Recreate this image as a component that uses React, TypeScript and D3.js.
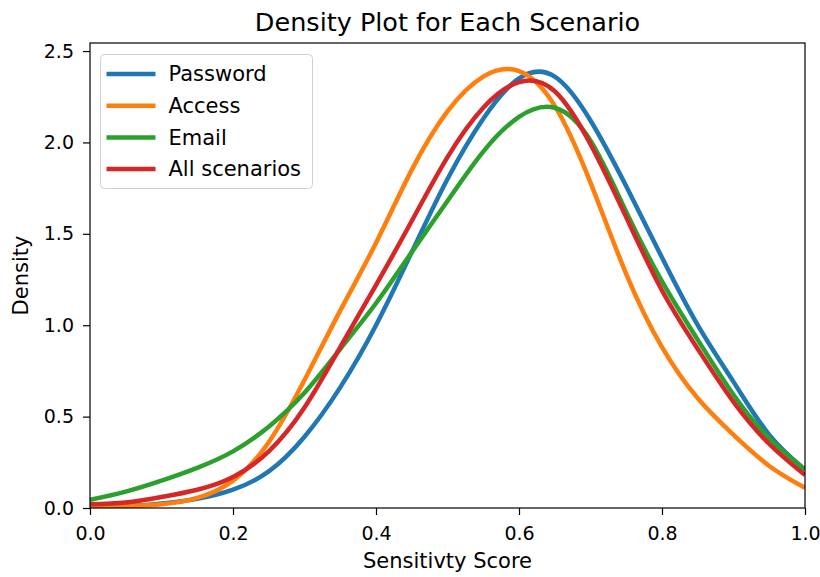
import { useEffect, useRef } from 'react';
import * as d3 from 'd3';

const scores = [0, 0.05, 0.1, 0.15, 0.2, 0.25, 0.3, 0.35, 0.4, 0.45, 0.5, 0.55, 0.6, 0.65, 0.7, 0.75, 0.8, 0.85, 0.9, 0.95, 1.0];

const password = [0.005, 0.01, 0.025, 0.05, 0.1, 0.2, 0.39, 0.66, 1.0, 1.4, 1.8, 2.13, 2.35, 2.36, 2.12, 1.76, 1.37, 1.0, 0.69, 0.4, 0.21];
const access = [0.005, 0.01, 0.02, 0.055, 0.15, 0.36, 0.7, 1.08, 1.45, 1.85, 2.17, 2.36, 2.39, 2.2, 1.78, 1.28, 0.88, 0.6, 0.4, 0.23, 0.11];
const email = [0.045, 0.09, 0.15, 0.22, 0.31, 0.445, 0.63, 0.87, 1.12, 1.4, 1.68, 1.95, 2.14, 2.19, 2.01, 1.62, 1.24, 0.92, 0.62, 0.38, 0.21];
const allScenarios = [0.02, 0.03, 0.06, 0.1, 0.17, 0.31, 0.55, 0.88, 1.22, 1.57, 1.92, 2.19, 2.33, 2.28, 1.99, 1.59, 1.19, 0.87, 0.58, 0.35, 0.18];

const seriesNames = ['Password', 'Access', 'Email', 'All scenarios'];
const seriesValues = [password, access, email, allScenarios];
const colors = ['#1f77b4', '#ff7f0e', '#2ca02c', '#d62728'];

const xTicks = [0, 0.2, 0.4, 0.6, 0.8, 1.0];
const yTicks = [0, 0.5, 1.0, 1.5, 2.0, 2.5];

export default function App() {
  const svgRef = useRef<SVGSVGElement | null>(null);

  useEffect(() => {
    if (!svgRef.current) return;
    const W = 820;
    const H = 577;
    const margin = { top: 43, right: 15, bottom: 69, left: 90 };
    const width = W - margin.left - margin.right;
    const height = H - margin.top - margin.bottom;
    const font = "'DejaVu Sans', sans-serif";

    const svg = d3.select(svgRef.current);
    svg.selectAll('*').remove();

    const g = svg.append('g').attr('transform', `translate(${margin.left},${margin.top})`);

    const x = d3.scaleLinear().domain([0, 1]).range([0, width]);
    const y = d3.scaleLinear().domain([0, 2.544]).range([height, 0]);

    const line = d3.line<number>()
      .x((_, i) => x(scores[i]))
      .y(d => y(d))
      .curve(d3.curveNatural);

    g.append('defs').append('clipPath').attr('id', 'plot-clip')
      .append('rect').attr('width', width).attr('height', height);

    const curves = g.append('g').attr('clip-path', 'url(#plot-clip)');
    seriesValues.forEach((vals, i) => {
      curves.append('path')
        .attr('d', line(vals))
        .attr('fill', 'none')
        .attr('stroke', colors[i])
        .attr('stroke-width', 4.5);
    });

    // axes
    const xAxis = g.append('g')
      .attr('transform', `translate(0,${height})`)
      .call(d3.axisBottom(x).tickValues(xTicks).tickFormat(d3.format('.1f')).tickSize(7).tickPadding(12));
    const yAxis = g.append('g')
      .call(d3.axisLeft(y).tickValues(yTicks).tickFormat(d3.format('.1f')).tickSize(7).tickPadding(9));
    [xAxis, yAxis].forEach(a => {
      a.select('.domain').remove();
      a.selectAll('line').attr('stroke', '#000').attr('stroke-width', 1.2);
      a.selectAll('text').attr('font-family', font).attr('font-size', 19).attr('fill', '#000');
    });

    // frame
    g.append('rect')
      .attr('width', width)
      .attr('height', height)
      .attr('fill', 'none')
      .attr('stroke', '#000')
      .attr('stroke-width', 1.2);

    // legend
    const legend = g.append('g').attr('transform', 'translate(10.5,11.5)');
    legend.append('rect')
      .attr('width', 212)
      .attr('height', 134)
      .attr('rx', 4)
      .attr('fill', '#fff')
      .attr('fill-opacity', 0.8)
      .attr('stroke', '#d0d0d0');
    seriesNames.forEach((name, i) => {
      const ly = 19.5 + i * 31.7;
      legend.append('line')
        .attr('x1', 6).attr('x2', 55)
        .attr('y1', ly).attr('y2', ly)
        .attr('stroke', colors[i])
        .attr('stroke-width', 4.5);
      legend.append('text')
        .attr('x', 68).attr('y', ly)
        .attr('dy', '0.35em')
        .attr('font-family', font)
        .attr('font-size', 21)
        .text(name);
    });

    // labels
    svg.append('text')
      .attr('x', margin.left + width / 2)
      .attr('y', 31)
      .attr('text-anchor', 'middle')
      .attr('font-family', font)
      .attr('font-size', 25.5)
      .text('Density Plot for Each Scenario');

    svg.append('text')
      .attr('x', margin.left + width / 2)
      .attr('y', 568)
      .attr('text-anchor', 'middle')
      .attr('font-family', font)
      .attr('font-size', 21)
      .text('Sensitivty Score');

    svg.append('text')
      .attr('transform', `translate(28,${margin.top + height / 2}) rotate(-90)`)
      .attr('text-anchor', 'middle')
      .attr('font-family', font)
      .attr('font-size', 21)
      .text('Density');
  }, []);

  return (
    <svg ref={svgRef} width={820} height={577} style={{ position: 'absolute', left: 0, top: 0, background: '#fff' }} />
  );
}
